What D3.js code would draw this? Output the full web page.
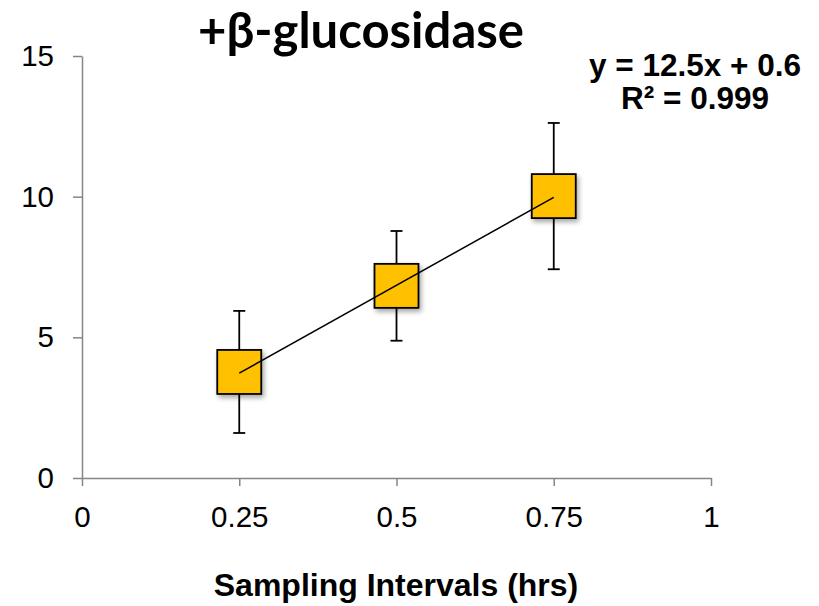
<!DOCTYPE html>
<html>
<head>
<meta charset="utf-8">
<script src="https://cdn.jsdelivr.net/npm/d3@7"></script>
<style>
  body { margin: 0; background: #fff; }
  .axis path, .axis line { stroke: #868686; stroke-width: 1.5; }
  .axis text { font-family: "Liberation Sans", Arial, sans-serif; font-size: 29.5px; fill: #000; }
</style>
</head>
<body>
<div id="graph"></div>
<script>
const times = [0.25, 0.5, 0.75];
const means = [3.77, 6.83, 10.02];
const errs = [2.17, 1.95, 2.6];
const x_ticks = [0, 0.25, 0.5, 0.75, 1];
const x_tick_labels = ["0", "0.25", "0.5", "0.75", "1"];
const y_ticks = [0, 5, 10, 15];
const slope = 12.5;
const intercept = 0.6;
const eq_lines = ["y = 12.5x + 0.6", "R² = 0.999"];

const W = 819, H = 606;

var x = d3.scaleLinear().domain([0, 1]).range([82, 711]);
var y = d3.scaleLinear().domain([0, 15]).range([478, 56]);

const draw_graph = () => {
  var svg = d3.select("#graph")
      .append("svg")
          .attr("width", W)
          .attr("height", H);

  var defs = svg.append("defs");
  defs.append("filter")
      .attr("id", "shadow")
      .attr("x", "-30%").attr("y", "-30%")
      .attr("width", "170%").attr("height", "170%")
    .append("feDropShadow")
      .attr("dx", 2).attr("dy", 3)
      .attr("stdDeviation", 2.5)
      .attr("flood-color", "#000")
      .attr("flood-opacity", 0.35);

  svg.append("g")
      .attr("class", "axis")
      .attr("transform", "translate(0," + y(0) + ")")
      .call(d3.axisBottom(x).tickValues(x_ticks)
        .tickFormat((d, i) => x_tick_labels[i]).tickSize(8).tickSizeOuter(0).tickPadding(20));

  svg.append("g")
      .attr("class", "axis")
      .attr("transform", "translate(" + x(0) + ",0)")
      .call(d3.axisLeft(y).tickValues(y_ticks).tickSize(9).tickSizeOuter(0).tickPadding(19));

  // error bars
  const cap = 6;
  const eb = svg.append("g").attr("stroke", "#000").attr("stroke-width", 1.8);
  times.forEach((t, i) => {
    eb.append("line")
        .attr("x1", x(t)).attr("x2", x(t))
        .attr("y1", y(means[i] + errs[i])).attr("y2", y(means[i] - errs[i]));
    [means[i] + errs[i], means[i] - errs[i]].forEach(v => {
      eb.append("line")
          .attr("x1", x(t) - cap).attr("x2", x(t) + cap)
          .attr("y1", y(v)).attr("y2", y(v));
    });
  });

  // markers
  const sz = 44;
  svg.append("g").selectAll("rect")
      .data(times)
      .join("rect")
      .attr("x", (d) => x(d) - sz / 2)
      .attr("y", (d, i) => y(means[i]) - sz / 2)
      .attr("width", sz)
      .attr("height", sz)
      .style("fill", "#FFC000")
      .style("stroke", "#000")
      .style("stroke-width", 1.8)
      .attr("filter", "url(#shadow)");

  // trendline
  svg.append("line")
      .attr("x1", x(times[0])).attr("y1", y(slope * times[0] + intercept))
      .attr("x2", x(times[2])).attr("y2", y(slope * times[2] + intercept))
      .style("stroke", "#000")
      .style("stroke-width", 1.5);

  svg.append("text")
      .attr("x", 361).attr("y", 48)
      .style("font-family", "Lato, 'Open Sans', sans-serif")
      .style("font-weight", "bold")
      .style("font-size", "49px")
      .style("text-anchor", "middle")
      .text("+β-glucosidase");

  svg.append("g").selectAll("text")
      .data(eq_lines)
      .join("text")
      .attr("x", 695)
      .attr("y", (d, i) => 76 + i * 33)
      .style("font-family", "'Liberation Sans', Arial, sans-serif")
      .style("font-weight", "bold")
      .style("font-size", "31.5px")
      .style("text-anchor", "middle")
      .text((d) => d);

  svg.append("text")
      .attr("x", 396).attr("y", 596)
      .style("font-family", "'Liberation Sans', Arial, sans-serif")
      .style("font-weight", "bold")
      .style("font-size", "32px")
      .style("text-anchor", "middle")
      .text("Sampling Intervals (hrs)");
  return svg;
}

window.onload = () => {
  draw_graph();
}
</script>
</body>
</html>
